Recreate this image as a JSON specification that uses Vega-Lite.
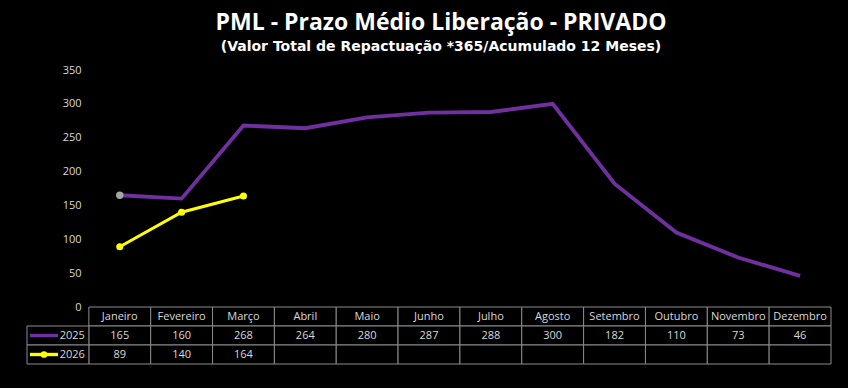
{
  "$schema": "https://vega.github.io/schema/vega-lite/v6.json",
  "background": "black",
  "padding": {"left": 26, "top": 12, "right": 18, "bottom": 23},
  "bounds": "flush",
  "datasets": {
    "pml": [
      {"month": "Janeiro", "series": "2025", "value": 165},
      {"month": "Fevereiro", "series": "2025", "value": 160},
      {"month": "Março", "series": "2025", "value": 268},
      {"month": "Abril", "series": "2025", "value": 264},
      {"month": "Maio", "series": "2025", "value": 280},
      {"month": "Junho", "series": "2025", "value": 287},
      {"month": "Julho", "series": "2025", "value": 288},
      {"month": "Agosto", "series": "2025", "value": 300},
      {"month": "Setembro", "series": "2025", "value": 182},
      {"month": "Outubro", "series": "2025", "value": 110},
      {"month": "Novembro", "series": "2025", "value": 73},
      {"month": "Dezembro", "series": "2025", "value": 46},
      {"month": "Janeiro", "series": "2026", "value": 89},
      {"month": "Fevereiro", "series": "2026", "value": 140},
      {"month": "Março", "series": "2026", "value": 164}
    ],
    "series": [{"series": "2025"}, {"series": "2026"}]
  },
  "title": {
    "text": "PML - Prazo Médio Liberação - PRIVADO",
    "subtitle": "(Valor Total de Repactuação *365/Acumulado 12 Meses)",
    "color": "white",
    "subtitleColor": "white",
    "font": "Open Sans",
    "subtitleFont": "DejaVu Sans",
    "fontSize": 23,
    "subtitleFontSize": 14,
    "fontWeight": "bold",
    "subtitleFontWeight": "bold",
    "anchor": "middle",
    "dx": 12,
    "subtitlePadding": 5,
    "offset": 10
  },
  "config": {"view": {"stroke": null}, "concat": {"spacing": 0}},
  "vconcat": [
    {
      "width": 804,
      "height": 237,
      "data": {"name": "pml"},
      "encoding": {
        "x": {
          "field": "month",
          "type": "nominal",
          "sort": [" ", "Janeiro", "Fevereiro", "Março", "Abril", "Maio", "Junho", "Julho", "Agosto", "Setembro", "Outubro", "Novembro", "Dezembro"],
          "scale": {"type": "band", "domain": [" ", "Janeiro", "Fevereiro", "Março", "Abril", "Maio", "Junho", "Julho", "Agosto", "Setembro", "Outubro", "Novembro", "Dezembro"], "paddingInner": 0, "paddingOuter": 0},
          "axis": null
        },
        "y": {
          "field": "value",
          "type": "quantitative",
          "scale": {"domain": [0, 350], "nice": false},
          "axis": {
            "values": [0, 50, 100, 150, 200, 250, 300, 350],
            "offset": -62,
            "domain": false,
            "ticks": false,
            "grid": false,
            "labelColor": "#D9D9D9",
            "labelFont": "Open Sans",
            "labelFontSize": 11,
            "labelPadding": 8,
            "title": null
          }
        }
      },
      "layer": [
        {
          "transform": [{"filter": "datum.series == '2025'"}],
          "mark": {"type": "line", "color": "#7030A0", "strokeWidth": 3.8}
        },
        {
          "transform": [{"filter": "datum.series == '2026'"}],
          "mark": {"type": "line", "color": "#FFFF00", "strokeWidth": 3, "point": {"filled": true, "size": 50, "color": "#FFFF00", "opacity": 1}}
        },
        {
          "transform": [{"filter": "datum.series == '2025' && datum.month == 'Janeiro'"}],
          "mark": {"type": "point", "filled": true, "size": 55, "color": "#A6A6A6", "opacity": 1}
        }
      ]
    },
    {
      "width": 804,
      "height": 57,
      "encoding": {
        "x": {
          "field": "month",
          "type": "nominal",
          "sort": [" ", "Janeiro", "Fevereiro", "Março", "Abril", "Maio", "Junho", "Julho", "Agosto", "Setembro", "Outubro", "Novembro", "Dezembro"],
          "scale": {"type": "band", "domain": [" ", "Janeiro", "Fevereiro", "Março", "Abril", "Maio", "Junho", "Julho", "Agosto", "Setembro", "Outubro", "Novembro", "Dezembro"], "paddingInner": 0, "paddingOuter": 0},
          "axis": null
        }
      },
      "layer": [
        {
          "data": {"name": "pml"},
          "transform": [{"filter": "datum.series == '2025'"}],
          "mark": {"type": "rect", "fill": "black", "stroke": "#8C8C8C", "strokeWidth": 1},
          "encoding": {"y": {"datum": "h", "type": "nominal", "scale": {"type": "band", "domain": ["h", "2025", "2026"], "paddingInner": 0, "paddingOuter": 0}, "axis": null}}
        },
        {
          "data": {"name": "pml"},
          "transform": [{"filter": "datum.series == '2025'"}],
          "mark": {"type": "rect", "fill": "black", "stroke": "#8C8C8C", "strokeWidth": 1},
          "encoding": {"y": {"datum": "2025", "type": "nominal"}}
        },
        {
          "data": {"name": "pml"},
          "transform": [{"filter": "datum.series == '2025'"}],
          "mark": {"type": "rect", "fill": "black", "stroke": "#8C8C8C", "strokeWidth": 1},
          "encoding": {"y": {"datum": "2026", "type": "nominal"}}
        },
        {
          "data": {"name": "series"},
          "mark": {"type": "rect", "fill": "black", "stroke": "#8C8C8C", "strokeWidth": 1},
          "encoding": {"x": {"datum": " ", "type": "nominal"}, "y": {"field": "series", "type": "nominal"}}
        },
        {
          "data": {"name": "pml"},
          "transform": [{"filter": "datum.series == '2025'"}],
          "mark": {"type": "text", "color": "#D9D9D9", "font": "Open Sans", "fontSize": 11, "align": "center", "baseline": "middle"},
          "encoding": {"y": {"datum": "h", "type": "nominal"}, "text": {"field": "month"}}
        },
        {
          "data": {"name": "pml"},
          "mark": {"type": "text", "color": "#D9D9D9", "font": "Open Sans", "fontSize": 11, "align": "center", "baseline": "middle"},
          "encoding": {"y": {"field": "series", "type": "nominal"}, "text": {"field": "value"}}
        },
        {
          "data": {"name": "series"},
          "mark": {"type": "text", "color": "#D9D9D9", "font": "Open Sans", "fontSize": 11, "align": "right", "baseline": "middle", "xOffset": -4},
          "encoding": {"x": {"datum": " ", "type": "nominal", "bandPosition": 1}, "y": {"field": "series", "type": "nominal"}, "text": {"field": "series"}}
        },
        {
          "data": {"name": "series"},
          "mark": {"type": "point", "shape": "M-1,-0.12H1V0.12H-1Z", "size": 784, "filled": true, "opacity": 1, "xOffset": 17},
          "encoding": {
            "x": {"datum": " ", "type": "nominal", "bandPosition": 0},
            "y": {"field": "series", "type": "nominal"},
            "color": {"field": "series", "type": "nominal", "scale": {"domain": ["2025", "2026"], "range": ["#7030A0", "#FFFF00"]}, "legend": null}
          }
        },
        {
          "data": {"name": "series"},
          "transform": [{"filter": "datum.series == '2026'"}],
          "mark": {"type": "point", "filled": true, "size": 45, "opacity": 1, "color": "#FFFF00", "xOffset": 17},
          "encoding": {
            "x": {"datum": " ", "type": "nominal", "bandPosition": 0},
            "y": {"field": "series", "type": "nominal"}
          }
        }
      ]
    }
  ]
}
